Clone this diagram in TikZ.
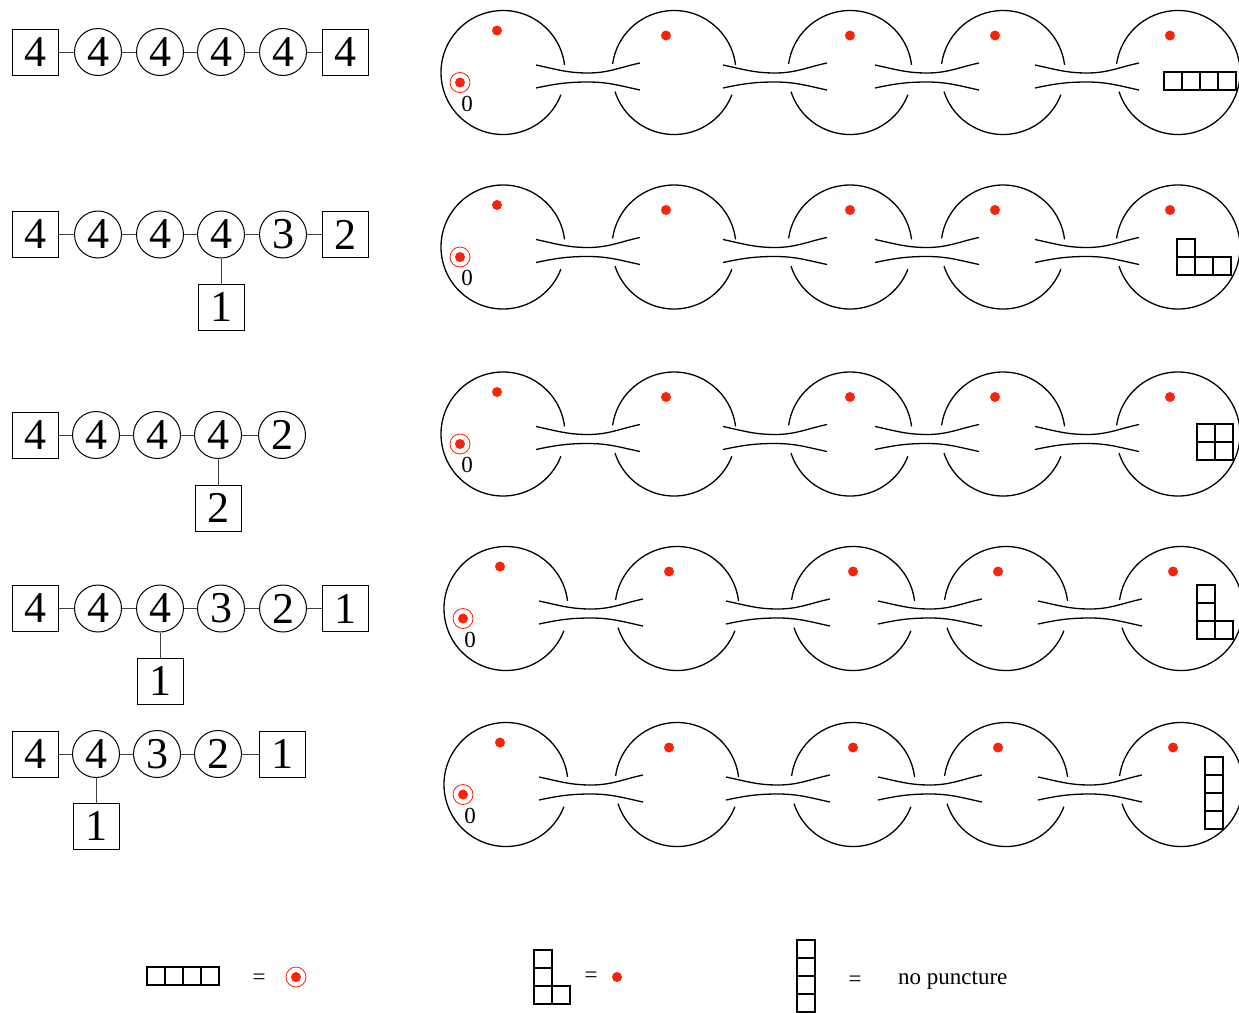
\documentclass[tikz,border=0pt]{standalone}
\usepackage{fontspec}
\setmainfont{Liberation Serif}
\definecolor{pr}{RGB}{250,35,10}
\newcommand{\chainrow}[3]{%
\begin{scope}[shift={(#1,-#2)}]
 \draw[sph] (503,0) ++(7:62) arc[start angle=7,end angle=339,radius=62];
 \foreach \cx in {674,850,1003}{
  \draw[sph] (\cx,0) ++(7:62) arc[start angle=7,end angle=172,radius=62];
  \draw[sph] (\cx,0) ++(198:62) arc[start angle=198,end angle=339,radius=62];}
 \draw[sph] (1178,0) ++(198:62) arc[start angle=198,end angle=532,radius=62];
 \foreach \m in {588,775,927,1087}{
  \draw[sph] (\m-52,7.5) to[out=-12,in=180] (\m,-0.5) to[out=0,in=192] (\m+52,9.5);
  \draw[sph] (\m-52,-15.5) to[out=12,in=180] (\m,-9.5) to[out=0,in=168] (\m+52,-17.5);}
 \fill[pr] (497,42) circle (5);
 \foreach \dx in {666,850,995,1170} \fill[pr] (\dx,37) circle (5);
 \draw[pr, line width=0.8pt] (460,-10) circle (10);
 \fill[pr] (460,-10) circle (5);
 \node[lbl] (zero#3) at (467,-31) {0};
\end{scope}}
\newcommand{\yc}[2]{\draw[ydg] (#1,-#2) rectangle ++(18,-18);}
\begin{document}
\begin{tikzpicture}[x=1pt,y=1pt,
 sph/.style={line width=1.3pt, black},
 ydg/.style={line width=1.4pt, black},
 qbox/.style={draw, line width=1pt, rectangle, minimum size=46pt, inner sep=0pt, font=\fontsize{44}{44}\selectfont},
 qcirc/.style={draw, line width=1pt, circle, minimum size=47pt, inner sep=0pt, font=\fontsize{44}{44}\selectfont},
 qedge/.style={line width=1pt, black!75},
 lbl/.style={font=\fontsize{23}{23}\selectfont, inner sep=0pt}]
\useasboundingbox (0,0) rectangle (1239,-1012);
\clip (0,0) rectangle (1239,-1012);

% ---------- quivers ----------
\node[qbox]  (a1) at (35,-52) {4};
\node[qcirc] (a2) at (98,-52) {4};
\node[qcirc] (a3) at (160,-52) {4};
\node[qcirc] (a4) at (221,-52) {4};
\node[qcirc] (a5) at (283,-52) {4};
\node[qbox]  (a6) at (345,-52) {4};
\draw[qedge] (a1)--(a2) (a2)--(a3) (a3)--(a4) (a4)--(a5) (a5)--(a6);

\node[qbox]  (b1) at (35,-234.5) {4};
\node[qcirc] (b2) at (98,-234.5) {4};
\node[qcirc] (b3) at (160,-234.5) {4};
\node[qcirc] (b4) at (221,-234.5) {4};
\node[qcirc] (b5) at (283,-234.5) {3};
\node[qbox]  (b6) at (345,-234.5) {2};
\node[qbox]  (b7) at (221,-307) {1};
\draw[qedge] (b1)--(b2) (b2)--(b3) (b3)--(b4) (b4)--(b5) (b5)--(b6) (b4)--(b7);

\node[qbox]  (c1) at (35,-435) {4};
\node[qcirc] (c2) at (96,-435) {4};
\node[qcirc] (c3) at (157,-435) {4};
\node[qcirc] (c4) at (218,-435) {4};
\node[qcirc] (c5) at (282,-435) {2};
\node[qbox]  (c6) at (218,-508) {2};
\draw[qedge] (c1)--(c2) (c2)--(c3) (c3)--(c4) (c4)--(c5) (c4)--(c6);

\node[qbox]  (d1) at (35,-608.5) {4};
\node[qcirc] (d2) at (98,-608.5) {4};
\node[qcirc] (d3) at (160,-608.5) {4};
\node[qcirc] (d4) at (221,-608.5) {3};
\node[qcirc] (d5) at (283,-608.5) {2};
\node[qbox]  (d6) at (345,-608.5) {1};
\node[qbox]  (d7) at (160,-681) {1};
\draw[qedge] (d1)--(d2) (d2)--(d3) (d3)--(d4) (d4)--(d5) (d5)--(d6) (d3)--(d7);

\node[qbox]  (e1) at (35,-754) {4};
\node[qcirc] (e2) at (96,-754) {4};
\node[qcirc] (e3) at (157,-754) {3};
\node[qcirc] (e4) at (218,-754) {2};
\node[qbox]  (e5) at (282,-754) {1};
\node[qbox]  (e6) at (96,-826) {1};
\draw[qedge] (e1)--(e2) (e2)--(e3) (e3)--(e4) (e4)--(e5) (e2)--(e6);

% ---------- sphere chains ----------
\chainrow{0}{72.5}{a}
\chainrow{0}{247}{b}
\chainrow{0}{434}{c}
\chainrow{3}{608.5}{d}
\chainrow{3}{784.5}{e}

% ---------- Young diagrams ----------
\yc{1164}{72}\yc{1182}{72}\yc{1200}{72}\yc{1218}{72}
\yc{1177}{239}\yc{1177}{257}\yc{1195}{257}\yc{1213}{257}
\yc{1197}{424}\yc{1215}{424}\yc{1197}{442}\yc{1215}{442}
\yc{1197}{585}\yc{1197}{603}\yc{1197}{621}\yc{1215}{621}
\yc{1205}{757}\yc{1205}{775}\yc{1205}{793}\yc{1205}{811}

% ---------- legend ----------
\yc{147}{967}\yc{165}{967}\yc{183}{967}\yc{201}{967}
\node[lbl] (eq1) at (259,-979) {=};
\draw[pr, line width=0.8pt] (296,-977) circle (10);
\fill[pr] (296,-977) circle (5);

\yc{534}{950}\yc{534}{968}\yc{534}{986}\yc{552}{986}
\node[lbl] (eq2) at (591,-977) {=};
\fill[pr] (617,-977) circle (5);

\yc{797}{940}\yc{797}{958}\yc{797}{976}\yc{797}{994}
\node[lbl] (eq3) at (855,-981) {=};
\node[lbl, anchor=west] (np) at (898,-980) {no puncture};
\end{tikzpicture}
\end{document}
